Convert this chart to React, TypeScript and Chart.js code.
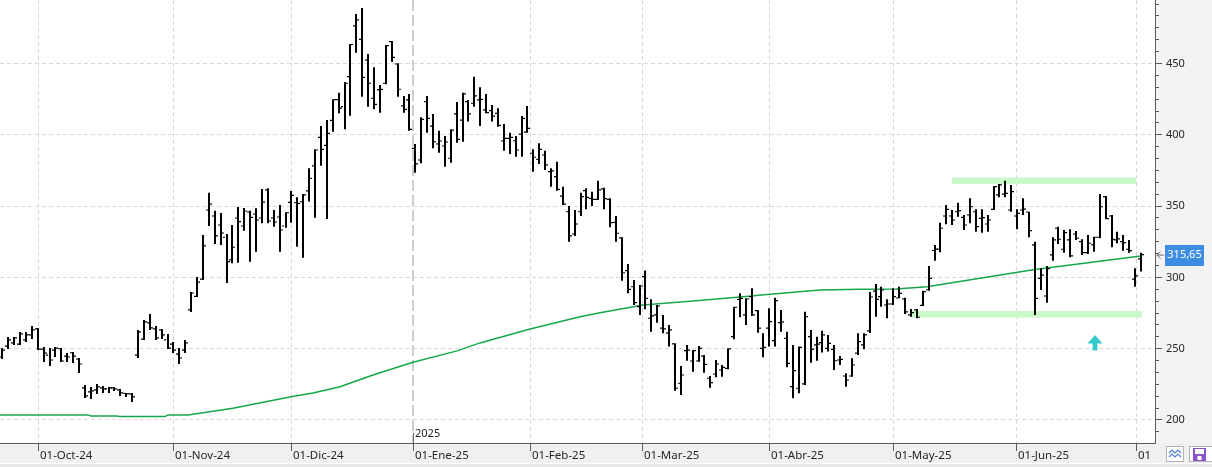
import React, { useEffect, useRef } from "react";
import { Chart, registerables } from "chart.js";

Chart.register(...registerables);

// ---- OHLC data (one entry per trading day, 23-Sep-24 .. 02-Jul-25) ----
const opens = [
  243.8, 251.5, 253.7, 252.9, 255.8, 259.3, 263.5, 249.4, 245.2, 248.7,
  249.6, 244.5, 246.8, 242.4, 222.1, 219.3, 220.7, 222.1, 221.4, 222.1,
  220.7, 218.4, 217.9, 245.2, 256.3, 267.7, 263.5, 262.8, 255.8, 252.9,
  245.9, 248.7, 276.8, 286.4, 298.5, 346.9, 342.7, 336.4, 327.8, 311.9,
  341.3, 335.7, 345.5, 344.1, 341.3, 361.0, 341.3, 342.0, 335.7, 352.3,
  352.0, 352.7, 360.3, 377.8, 397.9, 392.3, 409.8, 424.3, 419.4, 440.4,
  476.0, 466.6, 452.1, 425.3, 431.1, 435.8, 465.0, 449.3, 419.9, 424.1,
  390.2, 382.0, 422.9, 405.8, 393.2, 391.8, 383.2, 414.3, 410.0, 422.9,
  421.8, 424.1, 417.1, 416.6, 414.7, 395.3, 397.2, 395.5, 400.2, 401.6,
  386.7, 382.5, 385.5, 373.8, 370.3, 356.7, 345.7, 330.1, 345.7, 360.5,
  355.1, 354.3, 361.7, 354.4, 338.3, 327.4, 304.4, 293.1, 279.1, 300.2,
  271.0, 273.3, 264.0, 260.5, 253.0, 225.4, 248.3, 241.0, 241.0, 244.5,
  228.9, 231.9, 234.7, 235.9, 258.1, 284.3, 273.3, 286.1, 276.3, 249.9,
  264.0, 255.3, 267.9, 256.9, 223.0, 221.9, 225.0, 258.1, 252.3, 253.9,
  249.9, 249.2, 241.7, 230.5, 230.5, 246.6, 252.3, 262.1, 290.0, 286.1,
  280.3, 281.0, 285.2, 284.5, 273.3, 276.8, 280.0, 291.0, 318.5, 319.4,
  342.7, 342.7, 345.7, 341.8, 343.4, 345.7, 341.1, 337.1, 347.4, 357.5,
  358.1, 346.9, 342.7, 346.9, 345.5, 322.4, 299.0, 286.6, 315.4, 334.1,
  319.4, 325.9, 330.1, 324.7, 317.0, 322.4, 327.8, 356.3, 342.7, 325.9,
  324.7, 319.4, 298.5, 312.6,
];
const highs = [
  250.1, 257.9, 257.9, 261.4, 261.4, 265.6, 264.2, 250.8, 250.1, 250.8,
  250.1, 246.6, 247.3, 243.1, 224.2, 222.8, 224.9, 223.5, 222.8, 222.8,
  221.4, 218.6, 218.6, 262.8, 269.8, 274.0, 265.6, 263.5, 260.0, 254.4,
  250.1, 255.8, 289.4, 299.9, 329.4, 359.1, 346.4, 344.8, 330.1, 336.4,
  349.0, 348.3, 346.4, 348.1, 361.7, 362.1, 346.9, 350.4, 345.3, 360.3,
  355.8, 358.1, 376.2, 389.5, 405.8, 410.0, 424.6, 429.2, 436.7, 463.3,
  484.4, 488.6, 456.3, 447.0, 434.6, 462.6, 465.4, 449.8, 426.9, 428.3,
  393.2, 411.9, 426.9, 414.3, 402.5, 398.8, 403.5, 422.7, 429.2, 424.1,
  440.4, 433.0, 428.3, 420.6, 418.2, 407.2, 401.1, 398.8, 412.8, 419.9,
  389.5, 393.7, 388.5, 376.2, 380.8, 363.3, 349.7, 346.9, 359.1, 362.1,
  359.8, 367.5, 362.6, 355.1, 342.7, 327.8, 309.1, 297.8, 294.3, 304.4,
  284.3, 280.3, 273.3, 266.3, 253.4, 237.5, 252.3, 248.7, 251.5, 245.2,
  230.5, 241.7, 238.2, 249.9, 279.1, 288.5, 285.0, 292.0, 276.8, 260.5,
  278.0, 285.4, 276.8, 261.6, 252.3, 251.1, 275.6, 262.8, 258.1, 262.3,
  259.3, 252.3, 244.5, 232.4, 242.9, 260.5, 260.5, 289.4, 295.0, 293.1,
  284.3, 292.0, 293.1, 285.4, 277.5, 277.5, 290.3, 307.7, 322.4, 338.0,
  350.4, 346.9, 352.0, 343.4, 355.1, 347.4, 347.4, 343.4, 363.8, 365.2,
  367.5, 364.5, 347.4, 355.1, 345.7, 324.7, 306.0, 307.7, 327.8, 335.2,
  332.9, 333.4, 332.2, 326.4, 329.4, 328.2, 358.1, 356.7, 343.4, 331.7,
  329.4, 325.9, 306.0, 317.0,
];
const lows = [
  242.4, 249.4, 252.2, 252.2, 254.4, 256.5, 248.7, 240.3, 237.5, 243.8,
  240.3, 240.3, 239.6, 232.6, 215.1, 214.4, 217.9, 218.6, 218.6, 220.0,
  216.5, 215.8, 212.3, 243.1, 255.8, 262.8, 255.8, 256.5, 249.4, 246.6,
  238.9, 246.6, 275.4, 285.9, 297.8, 335.7, 323.1, 322.4, 295.7, 309.5,
  310.0, 332.4, 310.7, 317.7, 337.6, 337.6, 335.2, 317.7, 334.5, 338.0,
  321.2, 313.5, 352.8, 341.5, 378.0, 340.6, 401.8, 414.7, 403.5, 413.1,
  457.2, 426.4, 419.4, 417.5, 415.2, 435.1, 450.9, 426.4, 415.2, 402.5,
  373.1, 379.7, 401.1, 390.2, 387.1, 377.3, 380.1, 394.1, 394.8, 408.9,
  419.4, 405.8, 414.7, 408.9, 405.3, 388.5, 386.2, 384.3, 384.3, 401.1,
  373.8, 379.2, 375.0, 363.3, 360.5, 350.4, 324.7, 328.7, 342.7, 347.4,
  349.7, 353.9, 347.4, 334.8, 324.7, 297.3, 288.5, 280.3, 273.3, 277.3,
  261.6, 267.9, 260.5, 251.1, 220.2, 217.2, 241.2, 233.5, 240.5, 232.8,
  222.3, 229.6, 230.0, 235.2, 256.2, 271.7, 266.3, 272.6, 260.9, 243.6,
  251.1, 251.1, 261.6, 236.6, 214.9, 218.4, 224.2, 239.8, 241.2, 246.9,
  247.6, 234.7, 238.2, 223.0, 230.0, 245.2, 249.2, 260.7, 272.1, 279.1,
  271.0, 280.3, 285.0, 274.0, 272.1, 271.0, 279.6, 290.3, 311.4, 317.3,
  336.9, 336.4, 342.2, 332.9, 337.6, 331.7, 331.0, 331.7, 346.9, 355.8,
  355.8, 345.7, 333.4, 343.4, 327.8, 273.3, 290.8, 281.9, 311.4, 323.1,
  317.0, 313.8, 325.9, 315.4, 316.1, 317.7, 327.1, 340.4, 320.8, 323.6,
  318.4, 317.0, 293.1, 303.7,
];
const closes = [
  248.7, 255.8, 257.2, 260.0, 259.3, 262.8, 249.4, 246.6, 241.7, 250.1,
  241.0, 243.8, 244.5, 238.9, 216.5, 220.0, 222.8, 221.4, 222.1, 221.4,
  218.6, 217.9, 215.8, 261.4, 268.4, 264.2, 257.2, 259.3, 250.1, 248.7,
  243.1, 253.7, 288.7, 296.4, 321.7, 351.1, 328.7, 330.8, 310.7, 320.8,
  338.7, 346.2, 341.8, 339.9, 352.5, 339.2, 338.5, 332.9, 345.0, 357.2,
  351.5, 357.5, 369.1, 389.0, 389.5, 400.7, 424.3, 418.3, 435.8, 463.0,
  480.2, 440.0, 435.8, 421.0, 431.5, 462.2, 454.0, 431.6, 417.5, 403.5,
  379.2, 410.5, 411.2, 394.8, 395.3, 394.6, 403.0, 396.5, 428.3, 414.3,
  426.9, 424.5, 415.2, 412.8, 406.3, 397.2, 397.9, 389.0, 411.2, 404.2,
  383.9, 389.5, 378.5, 374.3, 361.4, 351.1, 328.7, 337.1, 356.3, 355.8,
  354.4, 361.0, 354.9, 338.0, 330.6, 302.9, 291.3, 281.9, 293.6, 285.0,
  272.6, 279.6, 263.5, 262.8, 221.9, 231.2, 248.7, 248.3, 249.9, 238.7,
  225.8, 238.9, 236.6, 249.5, 278.7, 285.0, 284.5, 273.3, 264.0, 250.5,
  268.6, 283.3, 268.5, 239.4, 234.2, 250.6, 272.1, 249.2, 252.8, 259.3,
  253.4, 241.2, 242.2, 227.7, 238.2, 254.6, 259.3, 285.9, 284.3, 290.8,
  281.0, 286.1, 288.5, 275.4, 274.9, 271.7, 289.6, 299.0, 319.5, 334.1,
  347.4, 339.9, 346.5, 336.4, 349.2, 335.2, 341.6, 339.9, 363.3, 364.5,
  358.6, 359.8, 344.6, 347.5, 332.4, 285.0, 301.3, 305.8, 325.9, 326.4,
  331.0, 314.7, 327.1, 317.0, 323.6, 327.8, 349.2, 340.9, 326.4, 326.6,
  324.0, 318.4, 300.7, 315.65,
];

// ---- moving average, read at points along the green line (bar index, value) ----
const maIndex = [-0.4, 14.5, 15.0, 19.5, 20.0, 27.5, 28.0, 31.5, 39.1, 48.9, 52.7, 57.2, 62.8, 69.6, 77.1, 81.0, 89.5, 97.9, 101.3, 108.6, 117.1, 125.5, 130.1, 138.6, 145.4, 151.5, 156.7, 174.7, 193.0];
const maValues = [203.2, 203.2, 202.5, 202.5, 202.0, 202.0, 203.2, 203.2, 207.9, 216.0, 218.6, 223.0, 231.2, 240.1, 248.1, 253.7, 263.5, 272.1, 274.9, 280.3, 283.1, 286.1, 287.8, 290.8, 291.3, 291.5, 293.1, 305.0, 314.6];

// ---- horizontal bands (resistance / support) ----
const upperBandIndex = [161.0, 192.1];
const upperBandValue = [367.4, 367.4];
const lowerBandIndex = [154.2, 193.2];
const lowerBandValue = [273.8, 273.8];

// ---- axis ----
const monthTickIndex = [6.1, 28.9, 48.9, 69.6, 89.4, 108.5, 130.0, 151.0, 171.8, 192.1];
const monthLabels = ["01-Oct-24", "01-Nov-24", "01-Dic-24", "01-Ene-25", "01-Feb-25", "01-Mar-25", "01-Abr-25", "01-May-25", "01-Jun-25", "01-Jul-25"];
const yearMarkerIndex = 69.6;
const yearLabel = "2025";
const yMajorTicks = [200, 250, 300, 350, 400, 450];
const yRange = [183.5, 494.2];
const xRange = [-0.39, 195.37];

const lastPrice = 315.65;
const arrowIndex = 185.15;
const arrowTipValue = 259.3;

const FONT = "'Noto Sans', 'DejaVu Sans', sans-serif";

export default function App() {
  const ref = useRef<HTMLCanvasElement>(null);

  useEffect(() => {
    const canvas = ref.current;
    if (!canvas) return;

    const line = (ctx: CanvasRenderingContext2D, x1: number, y1: number, x2: number, y2: number) => {
      ctx.beginPath();
      ctx.moveTo(x1, y1);
      ctx.lineTo(x2, y2);
      ctx.stroke();
    };

    const decor = {
      id: "decor",
      beforeDraw(chart: any) {
        const { ctx, width, height, chartArea: a } = chart;
        ctx.save();
        ctx.fillStyle = "#ffffff";
        ctx.fillRect(0, 0, width, height);
        ctx.fillStyle = "#f3f3f4";
        ctx.fillRect(a.right, 0, width - a.right, a.bottom);
        ctx.fillStyle = "#f0f0f0";
        ctx.fillRect(0, a.bottom, width, height - a.bottom);
        ctx.fillStyle = "#ffffff";
        ctx.fillRect(0, a.bottom + 20, width, 1);
        ctx.fillStyle = "#e8e8e8";
        ctx.fillRect(0, a.bottom + 21, width, height - a.bottom - 21);
        ctx.restore();
      },
      beforeDatasetsDraw(chart: any) {
        const { ctx, chartArea: a, scales } = chart;
        const xs = scales.x;
        const ys = scales.y;
        ctx.save();
        ctx.beginPath();
        ctx.rect(a.left, a.top, a.right - a.left, a.bottom - a.top);
        ctx.clip();
        ctx.strokeStyle = "#d8d8d8";
        ctx.lineWidth = 1;
        ctx.setLineDash([4, 3]);
        for (const v of yMajorTicks) {
          const y = Math.round(ys.getPixelForValue(v)) + 0.5;
          line(ctx, a.left, y, a.right, y);
        }
        for (const m of monthTickIndex) {
          if (m === yearMarkerIndex) continue;
          const x = Math.round(xs.getPixelForValue(m)) + 0.5;
          line(ctx, x, a.top, x, a.bottom);
        }
        ctx.strokeStyle = "#cdcdcd";
        ctx.lineWidth = 2;
        ctx.setLineDash([11, 4]);
        const yx = Math.round(xs.getPixelForValue(yearMarkerIndex));
        line(ctx, yx, a.top, yx, a.bottom);
        ctx.restore();
      },
      afterDraw(chart: any) {
        const { ctx, height, chartArea: a, scales } = chart;
        const xs = scales.x;
        const ys = scales.y;
        ctx.save();
        ctx.setLineDash([]);
        // axis lines
        ctx.strokeStyle = "#5c5c5c";
        ctx.lineWidth = 1;
        line(ctx, 0, a.bottom + 0.5, a.right + 1, a.bottom + 0.5);
        line(ctx, a.right + 0.5, 0, a.right + 0.5, a.bottom + 1);

        // x ticks + labels
        ctx.font = `11.5px ${FONT}`;
        ctx.fillStyle = "#262626";
        ctx.textBaseline = "middle";
        ctx.textAlign = "left";
        for (let i = 0; i < monthTickIndex.length; i++) {
          const x = Math.round(xs.getPixelForValue(monthTickIndex[i])) + 0.5;
          ctx.strokeStyle = "#5c5c5c";
          line(ctx, x, a.bottom, x, a.bottom + 8);
        }
        ctx.save();
        ctx.beginPath();
        ctx.rect(0, a.bottom, a.right - 6, height - a.bottom);
        ctx.clip();
        for (let i = 0; i < monthTickIndex.length; i++) {
          const x = Math.round(xs.getPixelForValue(monthTickIndex[i]));
          ctx.fillText(monthLabels[i], x + 2, a.bottom + 12.5);
        }
        ctx.restore();

        // year marker
        const yx = Math.round(xs.getPixelForValue(yearMarkerIndex)) + 0.5;
        ctx.strokeStyle = "#6a6a6a";
        line(ctx, yx, a.bottom - 10, yx, a.bottom);
        ctx.font = `11px ${FONT}`;
        ctx.fillStyle = "#262626";
        ctx.fillText(yearLabel, yx + 1.5, a.bottom - 9);

        // y ticks (major + minor) and labels
        ctx.strokeStyle = "#5c5c5c";
        for (let k = -3; k <= 40; k++) {
          const v = 200 + (k * 50) / 6;
          if (v < ys.min || v > ys.max) continue;
          const y = Math.round(ys.getPixelForValue(v)) + 0.5;
          const major = k % 6 === 0;
          line(ctx, a.right, y, a.right + (major ? 7 : 4), y);
        }
        ctx.font = `11px ${FONT}`;
        ctx.fillStyle = "#262626";
        for (const v of yMajorTicks) {
          ctx.fillText(String(v), a.right + 11, ys.getPixelForValue(v) + 0.5);
        }

        // last price box
        const py = ys.getPixelForValue(lastPrice);
        ctx.fillStyle = "#3d8ee3";
        ctx.fillRect(a.right + 10, Math.round(py - 10), 39, 21);
        ctx.fillStyle = "#ffffff";
        ctx.textAlign = "center";
        ctx.fillText(lastPrice.toFixed(2).replace(".", ","), a.right + 29.5, py + 0.5);
        // small pointer
        ctx.strokeStyle = "#6a6a6a";
        ctx.lineWidth = 1;
        line(ctx, a.right + 2, py + 0.5, a.right + 9, py + 0.5);
        ctx.beginPath();
        ctx.moveTo(a.right + 5.5, py - 3);
        ctx.lineTo(a.right + 2, py + 0.5);
        ctx.lineTo(a.right + 5.5, py + 4);
        ctx.stroke();

        // cyan arrow
        const ax = xs.getPixelForValue(arrowIndex);
        const ay = ys.getPixelForValue(arrowTipValue);
        ctx.fillStyle = "#36caca";
        ctx.beginPath();
        ctx.moveTo(ax, ay);
        ctx.lineTo(ax - 7.5, ay + 8.5);
        ctx.lineTo(ax + 7.5, ay + 8.5);
        ctx.closePath();
        ctx.fill();
        ctx.fillRect(ax - 2.4, ay + 8, 4.8, 7.5);

        // bottom-right buttons
        ctx.fillStyle = "#ffffff";
        ctx.strokeStyle = "#b4b4b4";
        ctx.fillRect(1166, 446, 17, 16);
        ctx.strokeRect(1166.5, 446.5, 17, 15);
        ctx.fillRect(1189, 446, 23, 16);
        ctx.strokeRect(1189.5, 446.5, 23, 15);
        ctx.strokeStyle = "#4a80cf";
        ctx.lineWidth = 1.2;
        ctx.beginPath();
        ctx.moveTo(1169, 453);
        ctx.lineTo(1172, 450);
        ctx.lineTo(1175, 453);
        ctx.lineTo(1178, 450);
        ctx.lineTo(1181, 453);
        ctx.moveTo(1169, 457);
        ctx.lineTo(1172, 454);
        ctx.lineTo(1175, 457);
        ctx.lineTo(1178, 454);
        ctx.lineTo(1181, 457);
        ctx.stroke();
        ctx.fillStyle = "#8a55c8";
        ctx.fillRect(1193, 448, 13, 13);
        ctx.fillStyle = "#ffffff";
        ctx.fillRect(1195, 449, 9, 5);
        ctx.fillRect(1197.5, 456, 4, 4);
        ctx.restore();
      },
    };

    const barData = highs.map((h, i) => ({ x: i, y: [lows[i], h] }));
    const openData = opens.map((o, i) => ({ x: i - 0.34, y: o }));
    const closeData = closes.map((c, i) => ({ x: i + 0.34, y: c }));
    const maData = maIndex.map((x, i) => ({ x, y: maValues[i] }));
    const upperBand = upperBandIndex.map((x, i) => ({ x, y: upperBandValue[i] }));
    const lowerBand = lowerBandIndex.map((x, i) => ({ x, y: lowerBandValue[i] }));

    const bandStyle = {
      type: "line" as const,
      borderColor: "#c9f8c9",
      borderWidth: 6.5,
      borderCapStyle: "butt" as const,
      pointRadius: 0,
      fill: false,
      order: 5,
    };

    const chart = new Chart(canvas, {
      type: "bar",
      data: {
        datasets: [
          { ...bandStyle, data: upperBand } as any,
          { ...bandStyle, data: lowerBand } as any,
          {
            type: "line",
            data: maData,
            borderColor: "#14a84a",
            borderWidth: 1.5,
            pointRadius: 0,
            tension: 0,
            fill: false,
            order: 4,
          } as any,
          {
            type: "bar",
            data: barData,
            backgroundColor: "#000000",
            borderWidth: 0,
            barThickness: 2,
            inflateAmount: 0,
            order: 3,
          } as any,
          {
            type: "line",
            data: openData,
            showLine: false,
            pointStyle: "line",
            pointRadius: 1,
            pointBorderWidth: 1.2,
            pointBorderColor: "#000000",
            pointBackgroundColor: "#000000",
            order: 2,
          } as any,
          {
            type: "line",
            data: closeData,
            showLine: false,
            pointStyle: "line",
            pointRadius: 1,
            pointBorderWidth: 1.2,
            pointBorderColor: "#000000",
            pointBackgroundColor: "#000000",
            order: 1,
          } as any,
        ],
      },
      options: {
        animation: false,
        responsive: false,
        maintainAspectRatio: false,
        devicePixelRatio: 1,
        events: [],
        layout: { padding: 0, autoPadding: false },
        plugins: { legend: { display: false }, tooltip: { enabled: false } },
        scales: {
          x: {
            type: "linear",
            min: xRange[0],
            max: xRange[1],
            bounds: "data",
            offset: false,
            alignToPixels: true,
            grid: { display: false },
            border: { display: false },
            ticks: { display: false },
            afterFit: (s: any) => {
              s.height = 24;
              s.paddingLeft = 0;
              s.paddingRight = 0;
            },
          },
          y: {
            type: "linear",
            position: "right",
            min: yRange[0],
            max: yRange[1],
            bounds: "data",
            beginAtZero: false,
            grid: { display: false },
            border: { display: false },
            ticks: { display: false },
            afterFit: (s: any) => {
              s.width = 57;
              s.paddingTop = 0;
              s.paddingBottom = 0;
            },
          },
        },
      } as any,
      plugins: [decor],
    });

    return () => chart.destroy();
  }, []);

  return (
    <div style={{ position: "absolute", left: 0, top: 0, width: 1212, height: 467 }}>
      <canvas ref={ref} width={1212} height={467} style={{ display: "block", width: 1212, height: 467 }} />
    </div>
  );
}
